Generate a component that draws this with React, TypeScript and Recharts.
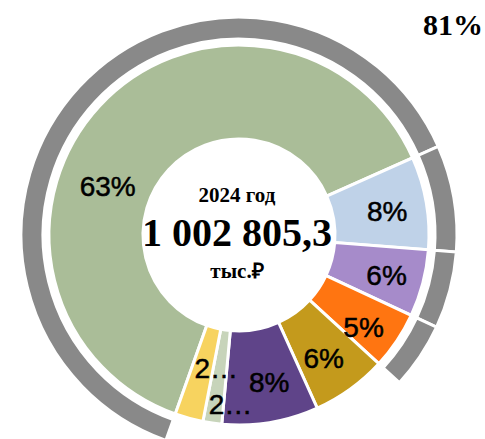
import { PieChart, Pie, Cell } from "recharts";

const categories = ["A", "B", "C", "D", "E", "F", "G", "H"];
const shares = [62.9, 7.9, 5.7, 4.9, 6.4, 8.2, 1.6, 2.4];
const outerShares = [62.9, 7.9, 5.7, 4.9];

const COLORS = ["#AABD98", "#BFD2E8", "#A68BCA", "#FF7511", "#C49A1C", "#5F4489", "#C7D4BA", "#F7D35F"];
// label nudges [angle offset, radius] to follow the original placement
const LABEL_ADJ: [number, number][] = [
  [22.5, 140],
  [-0.9, 150],
  [-0.6, 153],
  [-2.7, 155],
  [-1.5, 150],
  [2, 151],
  [5.2, 170],
  [5.6, 135],
];

const RAD = Math.PI / 180;
const CX = 239;
const CY = 235;
const START = 250.4;

const inner = categories.map((name, i) => ({ name, value: shares[i] }));
const outerSum = outerShares.reduce((a, b) => a + b, 0);
const outer = [
  ...outerShares.map((v, i) => ({ name: categories[i], value: v, hidden: false })),
  { name: "rest", value: 100 - outerSum, hidden: true },
];

const serif = "'Liberation Serif', 'Times New Roman', serif";
const sans = "'Liberation Sans', Arial, sans-serif";

function renderLabel(props: any) {
  const { midAngle, percent, index, value } = props;
  const [da, r] = LABEL_ADJ[index] || [0, 150];
  const a = (midAngle + da) * RAD;
  const x = CX + r * Math.cos(a);
  const y = CY - r * Math.sin(a);
  let txt = Math.round(percent * 100) + "%";
  if (value < 3) txt = txt.slice(0, 1) + "…";
  return (
    <text
      key={"l" + index}
      x={x}
      y={y}
      textAnchor="middle"
      dominantBaseline="central"
      fontFamily={sans}
      fontSize={28}
      fill="#000"
      stroke="#000"
      strokeWidth={0.5}
    >
      {txt}
    </text>
  );
}

export default function App() {
  return (
    <div style={{ position: "absolute", left: 0, top: 0, width: 485, height: 439, background: "#fff" }}>
      <PieChart width={485} height={439} margin={{ top: 0, right: 0, bottom: 0, left: 0 }}>
        <Pie
          data={outer}
          dataKey="value"
          cx={CX}
          cy={CY}
          innerRadius={196}
          outerRadius={218}
          startAngle={START}
          endAngle={START - 360}
          stroke="#fff"
          strokeWidth={3}
          isAnimationActive={false}
        >
          {outer.map((d, i) => (
            <Cell key={i} fill={d.hidden ? "transparent" : "#898989"} stroke={d.hidden ? "none" : "#fff"} />
          ))}
        </Pie>
        <Pie
          data={inner}
          dataKey="value"
          cx={CX}
          cy={CY}
          innerRadius={96}
          outerRadius={190}
          startAngle={START}
          endAngle={START - 360}
          stroke="#fff"
          strokeWidth={3}
          label={renderLabel}
          labelLine={false}
          isAnimationActive={false}
        >
          {inner.map((_, i) => (
            <Cell key={i} fill={COLORS[i]} />
          ))}
        </Pie>
        <text x={CX - 2} y={202} textAnchor="middle" fontFamily={serif} fontWeight="bold" fontSize={21}>
          2024 год
        </text>
        <text x={CX - 2} y={246} textAnchor="middle" fontFamily={serif} fontWeight="bold" fontSize={40}>
          1 002 805,3
        </text>
        <text x={CX - 2} y={278} textAnchor="middle" fontFamily={serif} fontWeight="bold" fontSize={21}>
          тыс.₽
        </text>
        <text x={483} y={35} textAnchor="end" fontFamily={serif} fontWeight="bold" fontSize={30}>
          {Math.round(outerSum)}%
        </text>
      </PieChart>
    </div>
  );
}
